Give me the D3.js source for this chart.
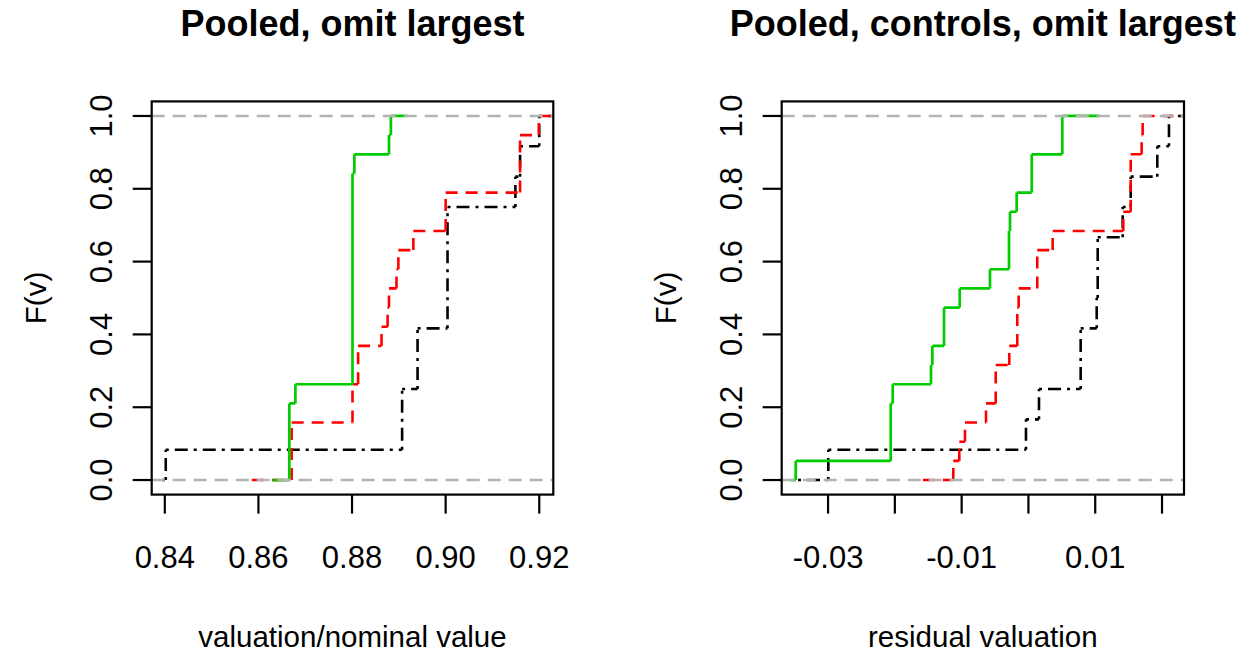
<!DOCTYPE html>
<html>
<head>
<meta charset="utf-8">
<script src="https://cdn.jsdelivr.net/npm/d3@7"></script>
<style>
  body { margin: 0; background: #fff; }
  text { font-family: "Liberation Sans", Arial, sans-serif; fill: #000; }
  .title { font-weight: bold; font-size: 36px; }
  .tick { font-size: 31px; }
  .lab { font-size: 29.5px; }
</style>
</head>
<body>
<div id="plot"></div>
<script>
const W = 1258, H = 655

// left panel: valuation / nominal value, sorted observations (ties repeated)
const leftBlack = [0.8402, 0.8907, 0.8907, 0.8940, 0.8940, 0.9004, 0.9004, 0.9004, 0.9004, 0.9149, 0.9159, 0.9200]
const leftRed = [0.8671, 0.8671, 0.8671, 0.8801, 0.8801, 0.8813, 0.8813, 0.8863, 0.8876, 0.8879, 0.8895, 0.8899,
  0.8931, 0.9000, 0.9000, 0.9159, 0.9159, 0.9159, 0.9199]
const leftGreen = [0.8666, 0.8666, 0.8666, 0.8666, 0.8679, 0.8801, 0.8801, 0.8801, 0.8801, 0.8801, 0.8801, 0.8801,
  0.8801, 0.8801, 0.8801, 0.8801, 0.8805, 0.8879, 0.8883]
// where each step line starts / stops (black, red, green)
const leftEnds = [[0.8394, 0.933], [0.8586, 0.928], [0.8631, 0.8918]]

// right panel: residual valuation
const rightBlack = [-0.02996, -0.00037, 0.00158, 0.00782, 0.00782, 0.01022, 0.01037, 0.01037, 0.01411, 0.01531, 0.01929, 0.02104]
const rightRed = [-0.01125, -0.01035, -0.0095, -0.00635, -0.0049, -0.0049, -0.00287, -0.00167, -0.00167, -0.00146,
  0.00132, 0.00132, 0.00363, 0.0142, 0.01531, 0.01531, 0.01531, 0.01695, 0.0171]
const rightGreen = [-0.03484, -0.02062, -0.02062, -0.02062, -0.02032, -0.01459, -0.01439, -0.01264, -0.01264, -0.01029,
  -0.00576, -0.00291, -0.00291, -0.00276, -0.00176, 0.00049, 0.00049, 0.00507, 0.00507]
const rightEnds = [[-0.0345, 0.03], [-0.0158, 0.0217], [-0.0356, 0.0107]]

const leftTicks = [0.84, 0.86, 0.88, 0.90, 0.92]
const leftTickLabels = ["0.84", "0.86", "0.88", "0.90", "0.92"]
const rightTicks = [-0.03, -0.02, -0.01, 0, 0.01, 0.02]
const rightTickLabels = ["-0.03", "", "-0.01", "", "0.01", ""]   // R drops the crowded ones
const yTicks = [0, 0.2, 0.4, 0.6, 0.8, 1.0]
const yTickLabels = ["0.0", "0.2", "0.4", "0.6", "0.8", "1.0"]

const titles = ["Pooled, omit largest", "Pooled, controls, omit largest"]
const xLabels = ["valuation/nominal value", "residual valuation"]

const colors = ["#000000", "#ff0000", "#00cd00"]
const dashes = ["3,6,13,6", "12,8", null]
const widths = [2.6, 2.6, 2.7]

const svg = d3.select("#plot").append("svg")
  .attr("width", W)
  .attr("height", H)
svg.append("rect").attr("width", W).attr("height", H).attr("fill", "#fff")

const y = d3.scaleLinear().domain([-0.04, 1.04]).range([494.6, 101.4])

// step points of an ecdf: [x, F] at every distinct value
const ecdfSteps = (vals) => {
  const s = vals.slice().sort(d3.ascending), n = s.length
  const out = []
  s.forEach((v, i) => {
    if (i == n - 1 || s[i + 1] != v) out.push([v, (i + 1) / n])
  })
  return out
}

const drawPanel = (id, usr, px, ticks, tickLabels, series, ends, title, xlab) => {
  const x = d3.scaleLinear().domain(usr).range(px)
  const g = svg.append("g")
  const left = px[0], right = px[1], top = y.range()[1], bottom = y.range()[0]

  g.append("clipPath").attr("id", "clip" + id)
    .append("rect")
    .attr("x", left).attr("y", top)
    .attr("width", right - left).attr("height", bottom - top)

  const plot = g.append("g").attr("clip-path", `url(#clip${id})`)

  series.forEach((vals, k) => {
    const st = ecdfSteps(vals)
    const segs = []
    // horizontals
    let prevX = ends[k][0], prevF = 0
    st.forEach(([v, f]) => {
      segs.push([prevX, prevF, v, prevF])
      prevX = v
      prevF = f
    })
    segs.push([prevX, 1, ends[k][1], 1])
    // verticals
    let lastF = 0
    st.forEach(([v, f]) => {
      segs.push([v, lastF, v, f])
      lastF = f
    })
    plot.append("g").selectAll("line")
      .data(segs)
      .join("line")
      .attr("x1", d => x(d[0])).attr("y1", d => y(d[1]))
      .attr("x2", d => x(d[2])).attr("y2", d => y(d[3]))
      .attr("stroke", colors[k])
      .attr("stroke-width", widths[k])
      .attr("stroke-dasharray", dashes[k])
  })

  // gray 0 and 1 lines
  plot.selectAll(".hline")
    .data([0, 1])
    .join("line")
    .attr("class", "hline")
    .attr("x1", left).attr("x2", right)
    .attr("y1", d => y(d)).attr("y2", d => y(d))
    .attr("stroke", "#b3b3b3")
    .attr("stroke-width", 2.6)
    .attr("stroke-dasharray", "13,8")

  // box
  g.append("rect")
    .attr("x", left).attr("y", top)
    .attr("width", right - left).attr("height", bottom - top)
    .attr("fill", "none").attr("stroke", "#000").attr("stroke-width", 2.2)

  // x axis
  const xa = g.append("g")
  xa.selectAll("line").data(ticks).join("line")
    .attr("x1", d => x(d)).attr("x2", d => x(d))
    .attr("y1", bottom).attr("y2", bottom + 19)
    .attr("stroke", "#000").attr("stroke-width", 2.2)
  xa.selectAll("text").data(ticks).join("text")
    .attr("class", "tick")
    .attr("x", d => x(d)).attr("y", 568)
    .attr("text-anchor", "middle")
    .text((d, i) => tickLabels[i])

  // y axis
  const ya = g.append("g")
  ya.selectAll("line").data(yTicks).join("line")
    .attr("x1", left - 19).attr("x2", left)
    .attr("y1", d => y(d)).attr("y2", d => y(d))
    .attr("stroke", "#000").attr("stroke-width", 2.2)
  ya.selectAll("text").data(yTicks).join("text")
    .attr("class", "tick")
    .attr("transform", d => `translate(${left - 40},${y(d)}) rotate(-90)`)
    .attr("text-anchor", "middle")
    .text((d, i) => yTickLabels[i])

  g.append("text")
    .attr("class", "lab")
    .attr("transform", `translate(${left - 106},${(top + bottom) / 2}) rotate(-90)`)
    .attr("text-anchor", "middle")
    .text("F(v)")

  g.append("text")
    .attr("class", "lab")
    .attr("x", (left + right) / 2).attr("y", 647)
    .attr("text-anchor", "middle")
    .text(xlab)

  g.append("text")
    .attr("class", "title")
    .attr("x", (left + right) / 2).attr("y", 36)
    .attr("text-anchor", "middle")
    .text(title)
}

drawPanel(0, [0.8372, 0.9230], [151.7, 553.3], leftTicks, leftTickLabels,
  [leftBlack, leftRed, leftGreen], leftEnds, titles[0], xLabels[0])
drawPanel(1, [-0.03694, 0.02329], [781.7, 1184], rightTicks, rightTickLabels,
  [rightBlack, rightRed, rightGreen], rightEnds, titles[1], xLabels[1])
</script>
</body>
</html>
